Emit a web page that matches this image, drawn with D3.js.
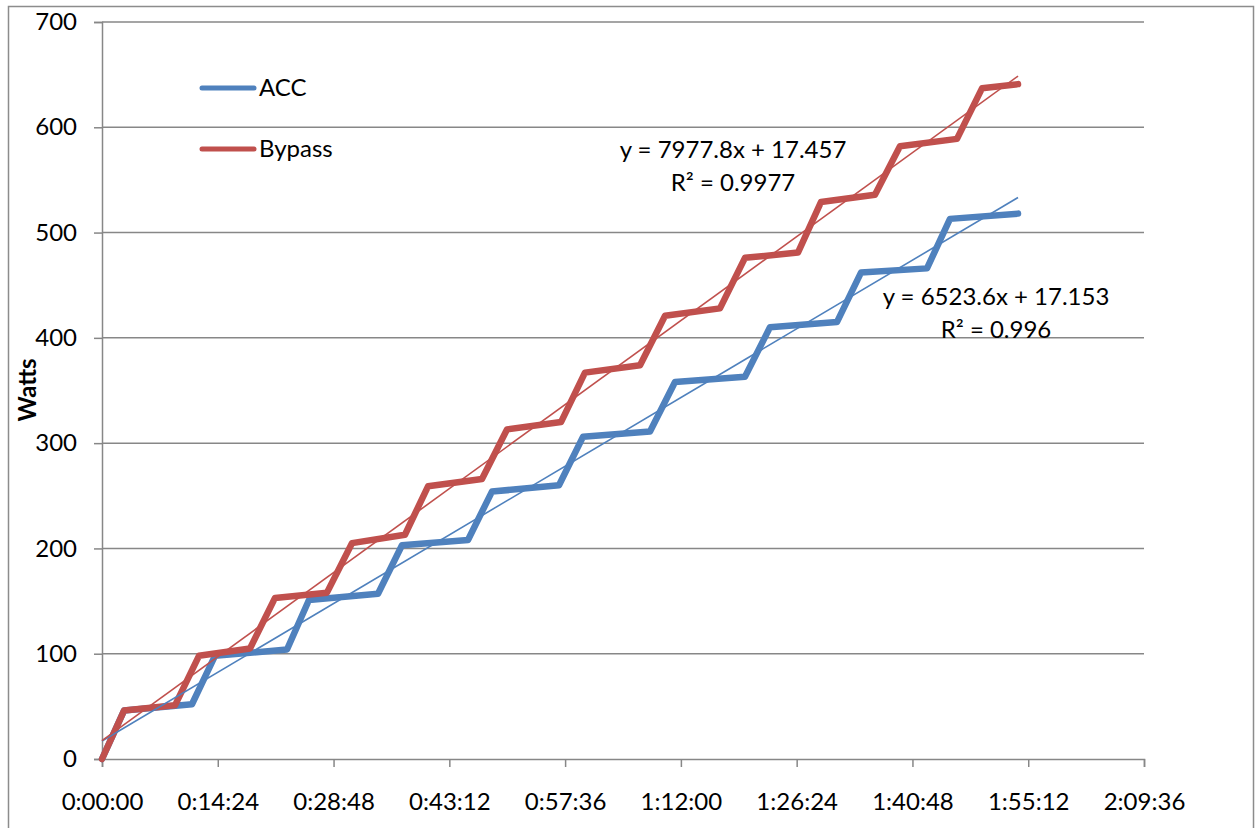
<!DOCTYPE html>
<html>
<head>
<meta charset="utf-8">
<script src="https://cdn.jsdelivr.net/npm/d3@7"></script>
<style>
  html, body { margin: 0; padding: 0; background: #fff; }
  svg { display: block; font-family: Lato, "Open Sans", sans-serif; }
</style>
</head>
<body>
<svg id="chart" width="1255" height="828"></svg>
<script>
// ---- data (time in minutes, watts) ----
const accMinutes    = [0, 2.74, 11.19, 14.05, 23.01, 25.74, 34.33, 37.31, 45.52, 48.50, 56.84, 59.82, 68.16, 71.27, 79.97, 83.08, 91.41, 94.40, 102.61, 105.47, 113.93];
const accWatts      = [0, 46, 52, 98, 104, 151, 157, 203, 208, 254, 260, 306, 311, 358, 363, 410, 415, 462, 466, 513, 518];
const bypassMinutes = [0, 2.74, 9.08, 12.06, 18.41, 21.52, 27.98, 31.09, 37.68, 40.55, 47.26, 50.37, 57.09, 60.07, 66.92, 70.03, 76.86, 79.97, 86.56, 89.42, 96.14, 99.25, 106.34, 109.45, 113.93];
const bypassWatts   = [0, 46, 51, 98, 105, 153, 158, 205, 213, 259, 266, 313, 320, 367, 374, 421, 428, 476, 481, 529, 536, 582, 589, 637, 641];
const xTickDays     = [0, 0.01, 0.02, 0.03, 0.04, 0.05, 0.06, 0.07, 0.08, 0.09];
const yTicks        = [0, 100, 200, 300, 400, 500, 600, 700];
const accTrend      = { slope: 6523.6, intercept: 17.153, label1: "y = 6523.6x + 17.153", label2: "R² = 0.996" };
const bypassTrend   = { slope: 7977.8, intercept: 17.457, label1: "y = 7977.8x + 17.457", label2: "R² = 0.9977" };
const seriesNames   = ["ACC", "Bypass"];

const BLUE = "#4F81BD", RED = "#C0504D", GRID = "#878787";
const FS = 24;

const svg = d3.select("#chart");

// outer chart frame
svg.append("rect").attr("x", 8.5).attr("y", 6.5).attr("width", 1245).attr("height", 840)
  .attr("fill", "#fff").attr("stroke", "#8c8c8c").attr("stroke-width", 1.5);

const x = d3.scaleLinear().domain([0, 0.09]).range([102, 1144]);
const y = d3.scaleLinear().domain([0, 700]).range([759, 22]);

function fmtTime(d) {
  const s = Math.round(d * 86400);
  const h = Math.floor(s / 3600), m = Math.floor((s % 3600) / 60), sec = s % 60;
  return h + ":" + String(m).padStart(2, "0") + ":" + String(sec).padStart(2, "0");
}

// gridlines
svg.append("g").selectAll("line").data(yTicks.filter(d => d > 0)).join("line")
  .attr("x1", x(0)).attr("x2", x(0.09))
  .attr("y1", d => y(d)).attr("y2", d => y(d))
  .attr("stroke", GRID).attr("stroke-width", 1.5);

// y axis
const yAxis = svg.append("g").attr("transform", `translate(${x(0)},0)`)
  .call(d3.axisLeft(y).tickValues(yTicks).tickSize(8).tickPadding(17));
yAxis.select(".domain").attr("stroke", GRID).attr("stroke-width", 1.5);
yAxis.selectAll(".tick line").attr("stroke", GRID).attr("stroke-width", 1.5);
yAxis.selectAll(".tick text").attr("font-size", FS).attr("fill", "#000").attr("font-family", "Lato");

// x axis
const xAxis = svg.append("g").attr("transform", `translate(0,${y(0)})`)
  .call(d3.axisBottom(x).tickValues(xTickDays).tickFormat(fmtTime).tickSize(8).tickPadding(26));
xAxis.select(".domain").attr("stroke", GRID).attr("stroke-width", 1.5);
xAxis.selectAll(".tick line").attr("stroke", GRID).attr("stroke-width", 1.5);
xAxis.selectAll(".tick text").attr("font-size", FS).attr("fill", "#000").attr("font-family", "Lato");

// y axis title
svg.append("text").attr("transform", "translate(36,390) rotate(-90)")
  .attr("text-anchor", "middle").attr("font-size", FS).attr("font-weight", "bold")
  .attr("font-family", "Lato").text("Watts");

// series
const line = d3.line().x(d => x(d[0] / 1440)).y(d => y(d[1]));
const accData = accMinutes.map((m, i) => [m, accWatts[i]]);
const bypassData = bypassMinutes.map((m, i) => [m, bypassWatts[i]]);

svg.append("path").datum(accData).attr("d", line)
  .attr("fill", "none").attr("stroke", BLUE).attr("stroke-width", 6.5)
  .attr("stroke-linejoin", "round").attr("stroke-linecap", "round");
svg.append("path").datum(bypassData).attr("d", line)
  .attr("fill", "none").attr("stroke", RED).attr("stroke-width", 6.5)
  .attr("stroke-linejoin", "round").attr("stroke-linecap", "round");

// trendlines
function trend(t, data, color) {
  const x0 = 0, x1 = d3.max(data, d => d[0]) / 1440;
  svg.append("line")
    .attr("x1", x(x0)).attr("y1", y(t.intercept + t.slope * x0))
    .attr("x2", x(x1)).attr("y2", y(t.intercept + t.slope * x1))
    .attr("stroke", color).attr("stroke-width", 1.6);
}
trend(accTrend, accData, BLUE);
trend(bypassTrend, bypassData, RED);

// trendline labels
function eqLabel(t, cx, by) {
  const g = svg.append("g").attr("font-size", FS).attr("font-family", "Lato").attr("text-anchor", "middle");
  g.append("text").attr("x", cx).attr("y", by).text(t.label1);
  g.append("text").attr("x", cx).attr("y", by + 33).text(t.label2);
}
eqLabel(bypassTrend, 733, 158);
eqLabel(accTrend, 996, 305);

// legend
const legend = svg.append("g");
const legY = [88, 149];
const legColors = [BLUE, RED];
seriesNames.forEach((n, i) => {
  legend.append("line").attr("x1", 202).attr("x2", 254).attr("y1", legY[i]).attr("y2", legY[i])
    .attr("stroke", legColors[i]).attr("stroke-width", 5).attr("stroke-linecap", "round");
  legend.append("text").attr("x", 259).attr("y", legY[i] + 8).attr("font-size", FS)
    .attr("font-family", "Lato").text(n);
});
</script>
</body>
</html>
